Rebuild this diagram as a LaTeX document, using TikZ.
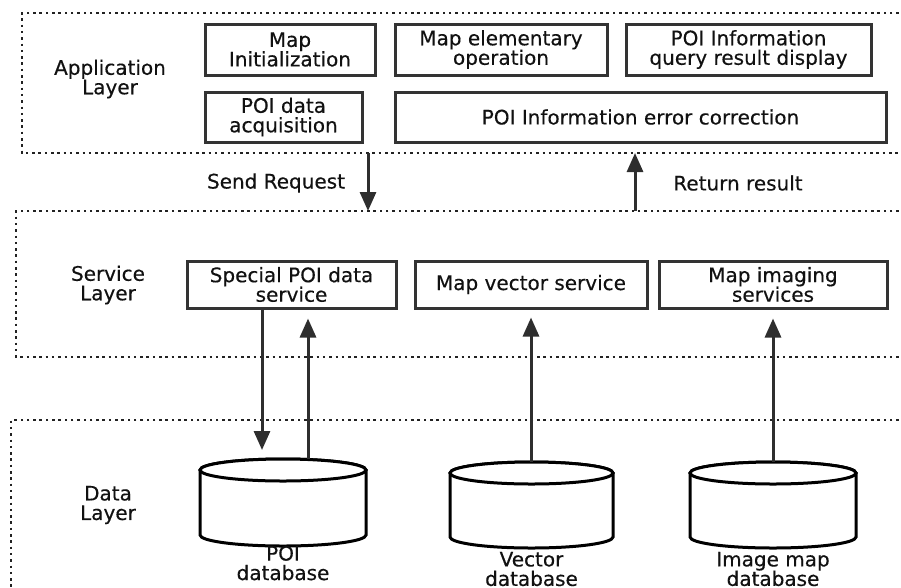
\documentclass[tikz,border=0pt]{standalone}
\usepackage{fontspec}
\setmainfont{DejaVu Sans}[FakeBold=0.35]
\usetikzlibrary{arrows.meta}
\definecolor{txt}{HTML}{111111}
\definecolor{boxc}{HTML}{333333}
\definecolor{arrc}{HTML}{2E2E2E}
\definecolor{dotc}{HTML}{222222}
\begin{document}
\begin{tikzpicture}[x=1pt,y=-1pt,
  lbl/.style={font=\fontsize{20}{19.5}\selectfont, text=txt, align=center, inner sep=0pt},
  box/.style={lbl, draw=boxc, line width=3pt},
  layer/.style={draw=dotc, line width=2.6pt, dash pattern=on 2.5pt off 3.8pt},
  arr/.style={draw=arrc, line width=3pt, -{Triangle[length=19pt,width=16pt]}},
  db/.style={draw=black, line width=3pt, fill=white},
  anchorbox/.style={inner sep=0pt, outer sep=0pt}]
\useasboundingbox (0,0) rectangle (901,587);

% layers
\draw[layer] (905,13) -- (22,13) -- (22,153) -- (905,153);
\draw[layer] (905,211) -- (16,211) -- (16,357) -- (905,357);
\draw[layer] (905,420) -- (11,420) -- (11,590);

\node[lbl] (applbl) at (110,79) {Application\\Layer};
\node[lbl] (svclbl) at (108,285) {Service\\Layer};
\node[lbl] (datalbl) at (108,505) {Data\\Layer};

% application boxes
\node[box, minimum width=170pt, minimum height=51pt] (mapinit) at (290,49.5) {Map\\Initialization};
\node[box, minimum width=157pt, minimum height=50pt] (poiacq) at (283.5,117) {POI data\\acquisition};
\node[box, minimum width=212pt, minimum height=51pt] (mapelem) at (501,49.5) {Map elementary\\operation};
\node[box, minimum width=245pt, minimum height=51pt] (poiquery) at (748.5,49.5) {POI Information\\query result display};
\node[box, minimum width=491pt, minimum height=50pt] (poierr) at (640.5,117) {POI Information error correction};

% between application and service
\coordinate (reqA) at (368,153);
\coordinate (reqB) at (368,211);
\coordinate (retA) at (635,211);
\coordinate (retB) at (635,153);
\draw[arr] (reqA) -- (reqB);
\draw[arr] (retA) -- (retB);
\node[lbl] (sendlbl) at (276,183) {Send Request};
\node[lbl] (retlbl) at (738,183) {Return result};

% service boxes
\node[box, minimum width=209pt, minimum height=47pt] (special) at (291.5,284.5) {Special POI data\\service};
\node[box, minimum width=232pt, minimum height=47pt] (vector) at (531,284.5) {Map vector service};
\node[box, minimum width=228pt, minimum height=47pt] (imaging) at (773,284.5) {Map imaging\\services};

% cylinders
\filldraw[db] (200,470) -- (200,535) arc[start angle=180,end angle=360,x radius=83pt,y radius=11pt] -- (366,470) arc[start angle=0,end angle=180,x radius=83pt,y radius=11pt] -- cycle;
\draw[db] (283,470) ellipse[x radius=83pt,y radius=11pt];
\filldraw[db] (450,473) -- (450,537) arc[start angle=180,end angle=360,x radius=81.5pt,y radius=11pt] -- (613,473) arc[start angle=0,end angle=180,x radius=81.5pt,y radius=11pt] -- cycle;
\draw[db] (531.5,473) ellipse[x radius=81.5pt,y radius=11pt];
\filldraw[db] (690,473) -- (690,537) arc[start angle=180,end angle=360,x radius=83pt,y radius=11pt] -- (856,473) arc[start angle=0,end angle=180,x radius=83pt,y radius=11pt] -- cycle;
\draw[db] (773,473) ellipse[x radius=83pt,y radius=11pt];

\node[anchorbox, minimum width=166pt, minimum height=87pt] (poidb) at (283,502.5) {};
\node[anchorbox, minimum width=163pt, minimum height=86pt] (vecdb) at (531.5,505) {};
\node[anchorbox, minimum width=166pt, minimum height=86pt] (imgdb) at (773,505) {};

\node[lbl] (poidbl) at (283,563) {POI\\database};
\node[lbl] (vecdbl) at (531.5,569) {Vector\\database};
\node[lbl] (imgdbl) at (773,569) {Image map\\database};

% service <-> data arrows
\draw[arr, shorten >=9pt] ([xshift=-29.5pt]special.south) -- ([xshift=-21pt]poidb.north);
\draw[arr, shorten >=9pt] ([xshift=25pt]poidb.north) -- ([xshift=16.5pt]special.south);
\draw[arr, shorten >=8pt] (vecdb.north -| vector.south) -- (vector.south);
\draw[arr, shorten >=9pt] (imgdb.north -| imaging.south) -- (imaging.south);
\end{tikzpicture}
\end{document}
